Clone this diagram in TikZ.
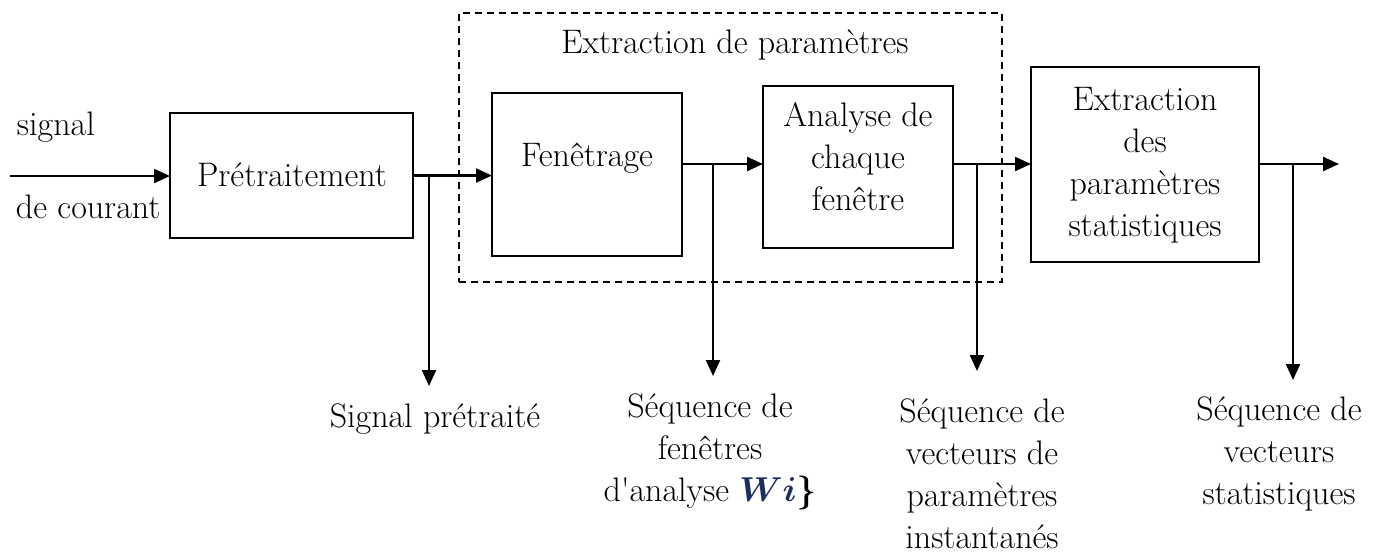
\documentclass[tikz,border=0pt]{standalone}
\usepackage{amsmath,bm}
\usetikzlibrary{arrows.meta}
\definecolor{wicol}{RGB}{30,45,95}
\begin{document}
\begin{tikzpicture}[x=0.5pt,y=-0.5pt,
  txt/.style={inner sep=0pt,outer sep=0pt,align=center,font=\fontsize{17}{21}\selectfont},
  blk/.style={draw,line width=1pt,inner sep=0pt,outer sep=0pt},
  arr/.style={line width=1.1pt,-{Triangle[length=8pt,width=7pt]}},
  grp/.style={draw,line width=0.8pt,dash pattern=on 3.5pt off 2.5pt}]
\useasboundingbox (0,0) rectangle (1379,554);
% group box
\node[grp,minimum width=271.5pt,minimum height=134.5pt,inner sep=0pt] (grp) at (730.5,147.5) {};
% blocks
\node[blk,minimum width=121.5pt,minimum height=62.5pt] (pre) at (291.5,175.5) {};
\node[blk,minimum width=95pt,minimum height=81.5pt] (fen) at (587,174.5) {};
\node[blk,minimum width=95pt,minimum height=81pt] (ana) at (858,167) {};
\node[blk,minimum width=114pt,minimum height=97.5pt] (sta) at (1145,164.5) {};
% texts (base anchor = baseline of the last line)
\node[txt,anchor=base] (grpT) at (735,53) {Extraction de paramètres};
\node[txt,anchor=base] (preT) at (292,186) {Prétraitement};
\node[txt,anchor=base] (fenT) at (587,166) {Fenêtrage};
\node[txt,anchor=base] (anaT) at (858,210) {Analyse de\\chaque\\fenêtre};
\node[txt,anchor=base] (staT) at (1145,236) {Extraction\\des\\paramètres\\statistiques};
\node[txt,anchor=base west] (inA) at (17,135) {signal};
\node[txt,anchor=base west] (inB) at (16,218) {de courant};
\node[txt,anchor=base] (o1T) at (435,427) {Signal prétraité};
\node[txt,anchor=base] (o2T) at (710,501) {Séquence de\\fenêtres\\d\textquotesingle analyse {\color{wicol}$\bm{Wi}$}\textbf{\}}};
\node[txt,anchor=base] (o3T) at (982,548) {Séquence de\\vecteurs de\\paramètres\\instantanés};
\node[txt,anchor=base] (o4T) at (1279,504) {Séquence de\\vecteurs\\statistiques};
% coordinates
\coordinate (in) at (10,176);
\coordinate (r) at (0,164);
\coordinate (j1) at (429,175.5);
\coordinate (e1) at (429,386);
\coordinate (j2) at (713,164);
\coordinate (e2) at (713,376);
\coordinate (j3) at (977,164);
\coordinate (e3) at (977,371);
\coordinate (j4) at (1293,164);
\coordinate (e4) at (1293,380);
\coordinate (out) at (1339,164);
% connectors
\draw[arr] (in) -- (in -| pre.west);
\draw[arr] (pre.east) -- (pre.east -| fen.west);
\draw[arr] (j1) -- (e1);
\draw[arr] (fen.east |- r) -- (ana.west |- r);
\draw[arr] (j2) -- (e2);
\draw[arr] (ana.east |- r) -- (sta.west |- r);
\draw[arr] (j3) -- (e3);
\draw[arr] (sta.east |- r) -- (out);
\draw[arr] (j4) -- (e4);
\end{tikzpicture}
\end{document}
